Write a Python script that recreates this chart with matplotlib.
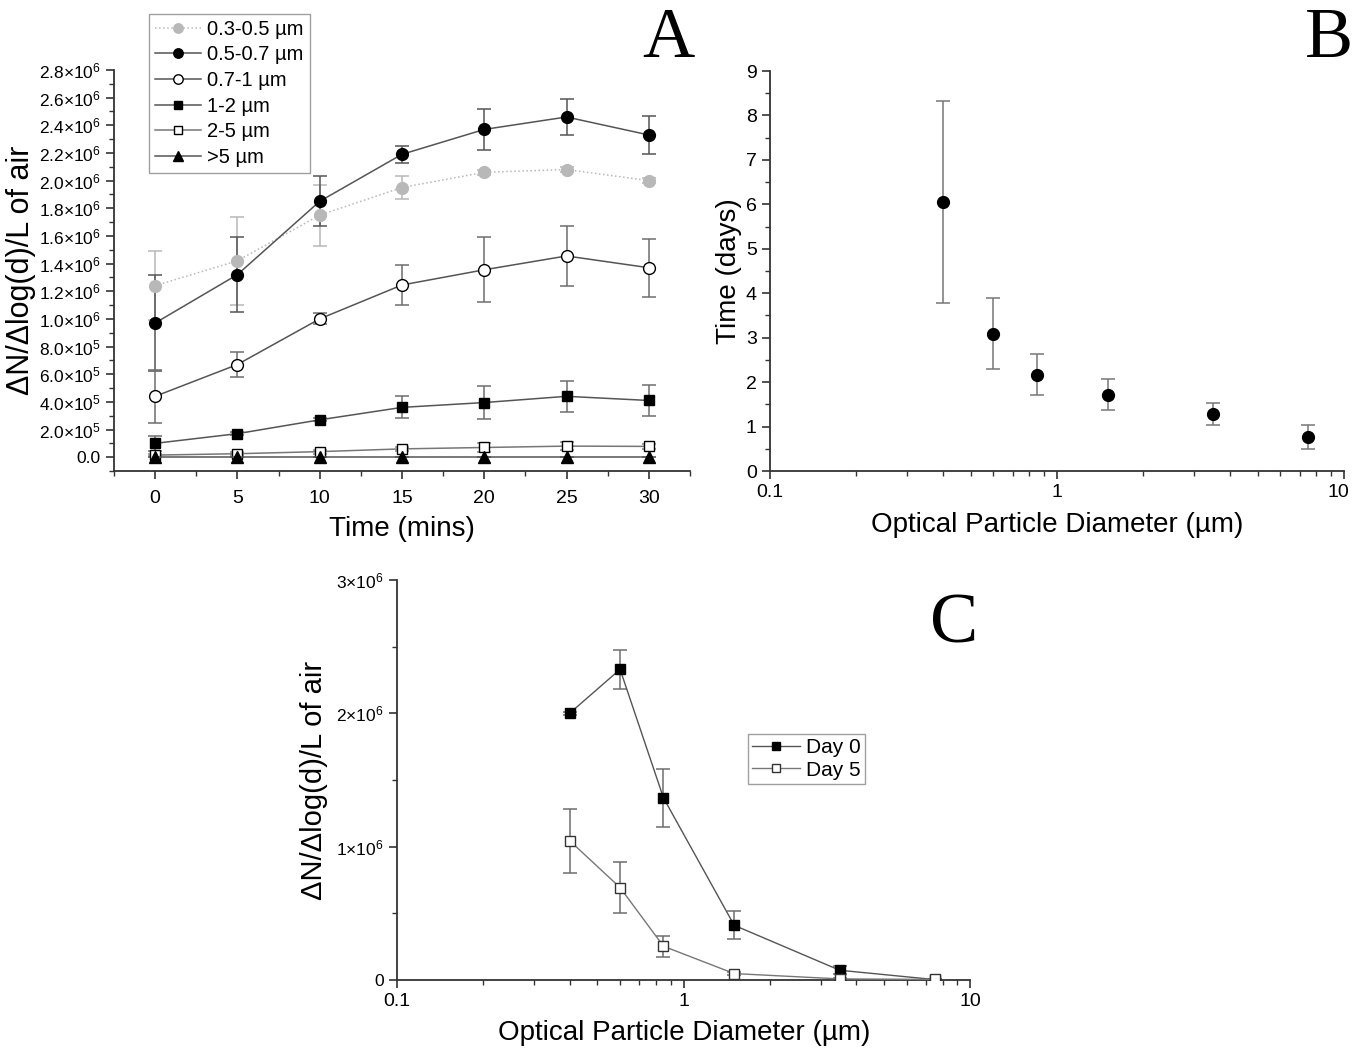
import math
import matplotlib
matplotlib.use("Agg")
import matplotlib.pyplot as plt
import matplotlib.transforms as mtransforms
from matplotlib.ticker import MultipleLocator, FuncFormatter, FixedLocator, LogLocator, NullFormatter

plt.rcParams["font.family"] = ["Liberation Sans", "DejaVu Sans"]
plt.rcParams["mathtext.default"] = "regular"

# ================= DATA =================

time_min = [0, 5, 10, 15, 20, 25, 30]

n_03_05 = [1.24e6, 1.42e6, 1.75e6, 1.95e6, 2.06e6, 2.08e6, 2.00e6]
e_03_05 = [0.25e6, 0.32e6, 0.22e6, 0.08e6, 0.02e6, 0.02e6, 0.02e6]
n_05_07 = [0.97e6, 1.32e6, 1.85e6, 2.19e6, 2.37e6, 2.46e6, 2.33e6]
e_05_07 = [0.35e6, 0.27e6, 0.18e6, 0.06e6, 0.15e6, 0.13e6, 0.14e6]
n_07_1 = [0.44e6, 0.67e6, 1.00e6, 1.245e6, 1.355e6, 1.455e6, 1.37e6]
e_07_1 = [0.19e6, 0.09e6, 0.04e6, 0.145e6, 0.235e6, 0.215e6, 0.21e6]
n_1_2 = [0.10e6, 0.17e6, 0.27e6, 0.36e6, 0.395e6, 0.44e6, 0.41e6]
e_1_2 = [0.055e6, 0.01e6, 0.01e6, 0.08e6, 0.12e6, 0.11e6, 0.11e6]
n_2_5 = [0.015e6, 0.025e6, 0.04e6, 0.06e6, 0.07e6, 0.08e6, 0.078e6]
e_2_5 = [0.01e6, 0.01e6, 0.015e6, 0.015e6, 0.03e6, 0.03e6, 0.02e6]
n_gt5 = [0.002e6, 0.002e6, 0.002e6, 0.002e6, 0.002e6, 0.002e6, 0.002e6]
e_gt5 = [0.002e6, 0.002e6, 0.002e6, 0.002e6, 0.002e6, 0.002e6, 0.002e6]

size_labels = ["0.3-0.5 µm", "0.5-0.7 µm", "0.7-1 µm", "1-2 µm", "2-5 µm", ">5 µm"]

diam_um = [0.4, 0.6, 0.85, 1.5, 3.5, 7.5]
decay_days = [6.06, 3.09, 2.17, 1.72, 1.29, 0.77]
decay_err = [2.27, 0.80, 0.46, 0.34, 0.25, 0.27]

day0 = [2.00e6, 2.33e6, 1.366e6, 0.41e6, 0.073e6, 0.003e6]
day0_err = [0.01e6, 0.145e6, 0.215e6, 0.105e6, 0.03e6, 0.0]
day5 = [1.045e6, 0.693e6, 0.253e6, 0.048e6, 0.008e6, 0.004e6]
day5_err = [0.24e6, 0.19e6, 0.077e6, 0.012e6, 0.005e6, 0.0]

day_labels = ["Day 0", "Day 5"]

# ================= STYLE =================

line_c = "#555555"
err_c = "#6e6e6e"
light = "#b8b8b8"
ylab = "ΔN/Δlog(d)/L of air"
xlab_d = "Optical Particle Diameter (µm)"


def style_axis(ax):
    for s in ["top", "right"]:
        ax.spines[s].set_visible(False)
    for s in ["left", "bottom"]:
        ax.spines[s].set_linewidth(1.3)
        ax.spines[s].set_color("#333333")
    ax.tick_params(which="major", direction="out", length=6, width=1.2,
                   colors="#333333", labelcolor="black")
    ax.tick_params(which="minor", direction="out", length=3.5, width=1.0,
                   colors="#333333")


def sci_a(v, pos):
    if abs(v) < 1:
        return "0.0"
    e = int(math.floor(math.log10(abs(v)) + 1e-9))
    m = v / 10 ** e
    return f"{m:.1f}×10$^{{{e}}}$"


def sci_c(v, pos):
    if abs(v) < 1:
        return "0"
    e = int(math.floor(math.log10(abs(v)) + 1e-9))
    m = v / 10 ** e
    return f"{m:.0f}×10$^{{{e}}}$"


fig = plt.figure(figsize=(13.52, 10.49), dpi=100)

# ================= PANEL A =================

axA = fig.add_axes([0.0843, 0.551, 0.4260, 0.3823])

series = [
    (n_03_05, e_03_05, "o", light, light, ":", light, light),
    (n_05_07, e_05_07, "o", "black", "black", "-", line_c, "#555555"),
    (n_07_1, e_07_1, "o", "white", "black", "-", line_c, err_c),
    (n_1_2, e_1_2, "s", "black", "black", "-", line_c, err_c),
    (n_2_5, e_2_5, "s", "white", "black", "-", "#777777", "#888888"),
    (n_gt5, e_gt5, "^", "black", "black", "-", line_c, err_c),
]

handles = []
for (vals, errs, mk, fc, ec, ls, lc, ecol), lab in zip(series, size_labels):
    axA.errorbar(time_min, vals, yerr=errs, fmt="none", ecolor=ecol,
                 elinewidth=1.1, capsize=5, capthick=1.1, zorder=2)
    ms = 8.5 if mk != "s" else 7.5
    h, = axA.plot(time_min, vals, marker=mk, ms=ms, mfc=fc, mec=ec, mew=1.0,
                  color=lc, ls=ls, lw=1.1, label=lab, zorder=3)
    handles.append(h)

axA.set_xlim(-2.5, 32.5)
axA.set_ylim(-1e5, 2.8e6)
axA.xaxis.set_major_locator(MultipleLocator(5))
axA.xaxis.set_minor_locator(MultipleLocator(2.5))
axA.yaxis.set_major_locator(FixedLocator([i * 2e5 for i in range(15)]))
axA.yaxis.set_minor_locator(FixedLocator([i * 1e5 for i in range(-1, 29)]))
axA.yaxis.set_major_formatter(FuncFormatter(sci_a))
style_axis(axA)
axA.tick_params(axis="x", labelsize=14, pad=8)
axA.tick_params(axis="y", labelsize=12.5)
axA.set_xlabel("Time (mins)", fontsize=20, labelpad=6)
axA.set_ylabel(ylab, fontsize=22, labelpad=2)

axA.legend(handles=handles, loc="upper left", bbox_to_anchor=(0.110, 0.987),
           bbox_transform=fig.transFigure, borderaxespad=0, fontsize=14.5,
           frameon=True, fancybox=False, edgecolor="#888888",
           handlelength=2.3, labelspacing=0.33, markerscale=0.8,
           borderpad=0.3, handletextpad=0.3)
fig.text(0.494, 0.962, "A", family="Liberation Serif", fontsize=52,
         ha="center", va="center")

# ================= PANEL B =================

axB = fig.add_axes([0.5695, 0.551, 0.4246, 0.3813])
axB.errorbar(diam_um, decay_days, yerr=decay_err, fmt="o", ms=8.5,
             color="black", ecolor="#777777", elinewidth=1.1,
             capsize=5, capthick=1.1)
axB.set_xscale("log")
axB.set_xlim(0.1, 10)
axB.set_ylim(0, 9)
axB.xaxis.set_major_locator(FixedLocator([0.1, 1, 10]))
axB.xaxis.set_major_formatter(FuncFormatter(lambda v, p: f"{v:g}"))
axB.xaxis.set_minor_locator(LogLocator(base=10, subs=range(2, 10)))
axB.xaxis.set_minor_formatter(NullFormatter())
axB.yaxis.set_major_locator(MultipleLocator(1))
axB.yaxis.set_minor_locator(MultipleLocator(0.5))
style_axis(axB)
axB.tick_params(labelsize=14)
axB.set_xlabel(xlab_d, fontsize=20, labelpad=8)
axB.set_ylabel("Time (days)", fontsize=20, labelpad=3)
fig.text(0.983, 0.962, "B", family="Liberation Serif", fontsize=52,
         ha="center", va="center")

# keep the "10" label inside the figure edge
fig.canvas.draw()
last_lab = axB.get_xticklabels()[-1]
last_lab.set_transform(last_lab.get_transform() +
                       mtransforms.ScaledTranslation(-6 / 100, 0, fig.dpi_scale_trans))

# ================= PANEL C =================

axC = fig.add_axes([0.2936, 0.0658, 0.4242, 0.3813])
axC.errorbar(diam_um, day0, yerr=day0_err, fmt="none", ecolor=err_c,
             elinewidth=1.1, capsize=5, capthick=1.1, zorder=2)
axC.errorbar(diam_um, day5, yerr=day5_err, fmt="none", ecolor=err_c,
             elinewidth=1.1, capsize=5, capthick=1.1, zorder=2)
h0, = axC.plot(diam_um, day0, marker="s", ms=7.5, mfc="black", mec="black",
               color=line_c, lw=1.0, label=day_labels[0], zorder=3)
h5, = axC.plot(diam_um, day5, marker="s", ms=7.5, mfc="white", mec="#333333",
               color="#777777", lw=1.0, label=day_labels[1], zorder=3)
axC.set_xscale("log")
axC.set_xlim(0.1, 10)
axC.set_ylim(0, 3e6)
axC.xaxis.set_major_locator(FixedLocator([0.1, 1, 10]))
axC.xaxis.set_major_formatter(FuncFormatter(lambda v, p: f"{v:g}"))
axC.xaxis.set_minor_locator(LogLocator(base=10, subs=range(2, 10)))
axC.xaxis.set_minor_formatter(NullFormatter())
axC.yaxis.set_major_locator(FixedLocator([0, 1e6, 2e6, 3e6]))
axC.yaxis.set_minor_locator(FixedLocator([0.5e6, 1.5e6, 2.5e6]))
axC.yaxis.set_major_formatter(FuncFormatter(sci_c))
style_axis(axC)
axC.tick_params(axis="x", labelsize=14)
axC.tick_params(axis="y", labelsize=12.5)
axC.set_xlabel(xlab_d, fontsize=20, labelpad=7)
axC.set_ylabel(ylab, fontsize=21, labelpad=6)
axC.legend(handles=[h0, h5], loc="upper left", bbox_to_anchor=(0.553, 0.300),
           bbox_transform=fig.transFigure, borderaxespad=0, fontsize=15,
           frameon=True, fancybox=False, edgecolor="#888888",
           handlelength=2.3, labelspacing=0.15, markerscale=0.8,
           borderpad=0.2, handletextpad=0.3)
fig.text(0.706, 0.404, "C", family="Liberation Serif", fontsize=52,
         ha="center", va="center")

fig.savefig("out.png", dpi=100)
print("Saved out.png")
